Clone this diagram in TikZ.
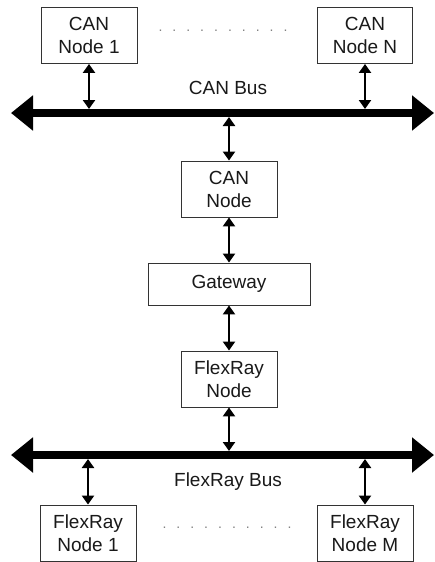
\documentclass[tikz,border=0pt]{standalone}
\usepackage{fontspec}
\setmainfont{Liberation Sans}
\usetikzlibrary{arrows.meta}
\begin{document}
\begin{tikzpicture}[x=1pt,y=-1pt,
  box/.style={draw=black!80,line width=0.9pt,fill=white,align=center,inner sep=0pt,
    minimum width=96pt,minimum height=56pt,
    font=\fontsize{19}{23}\selectfont,text=black!90},
  link/.style={line width=2.8pt,{Triangle[width=12pt,length=9pt]}-{Triangle[width=12pt,length=9pt]}},
  bus/.style={line width=8pt,{Triangle[width=34pt,length=22pt]}-{Triangle[width=34pt,length=22pt]}},
  lbl/.style={font=\fontsize{19}{23}\selectfont,text=black!90},
  dotrow/.style={font=\fontsize{14}{16}\selectfont,text=black!50}]
\useasboundingbox (0,0) rectangle (435,562);
% boxes
\node[box] (can1) at (89,35.5) {CAN\\Node 1};
\node[box,minimum width=95pt] (canN) at (365,35.5) {CAN\\Node N};
\node[box] (cann) at (229,189) {CAN\\Node};
\node[box,minimum width=162pt,minimum height=42pt] (gw) at (229,284) {Gateway};
\node[box] (frn) at (229,379) {FlexRay\\Node};
\node[box] (fr1) at (88,533) {FlexRay\\Node 1};
\node[box] (frM) at (365,533) {FlexRay\\Node M};
% dots
\node[dotrow] (d1) at (223,31) {.\hspace{10pt}.\hspace{10pt}.\hspace{10pt}.\hspace{10pt}.\hspace{10pt}.\hspace{10pt}.\hspace{10pt}.\hspace{10pt}.\hspace{10pt}.};
\node[dotrow] (d2) at (227,528) {.\hspace{10pt}.\hspace{10pt}.\hspace{10pt}.\hspace{10pt}.\hspace{10pt}.\hspace{10pt}.\hspace{10pt}.\hspace{10pt}.\hspace{10pt}.};
% buses
\coordinate (canL) at (11,113);
\coordinate (canR) at (434,113);
\coordinate (frL) at (11,455);
\coordinate (frR) at (434,455);
\draw[bus] (canL) -- (canR);
\draw[bus] (frL) -- (frR);
\node[lbl] (canlbl) at (228,88) {CAN Bus};
\node[lbl] (frlbl) at (228,482) {FlexRay Bus};
% attachment points on buses
\coordinate (c1) at (89,109);
\coordinate (cN) at (365,109);
\coordinate (cc) at (229,117);
\coordinate (fc) at (229,451);
\coordinate (f1) at (88,459);
\coordinate (fM) at (365,459);
% links
\draw[link] (can1.south) -- (c1);
\draw[link] (canN.south) -- (cN);
\draw[link] (cc) -- (cann.north);
\draw[link] (cann.south) -- (gw.north);
\draw[link] (gw.south) -- (frn.north);
\draw[link] (frn.south) -- (fc);
\draw[link] (f1) -- (fr1.north);
\draw[link] (fM) -- (frM.north);
\end{tikzpicture}
\end{document}
